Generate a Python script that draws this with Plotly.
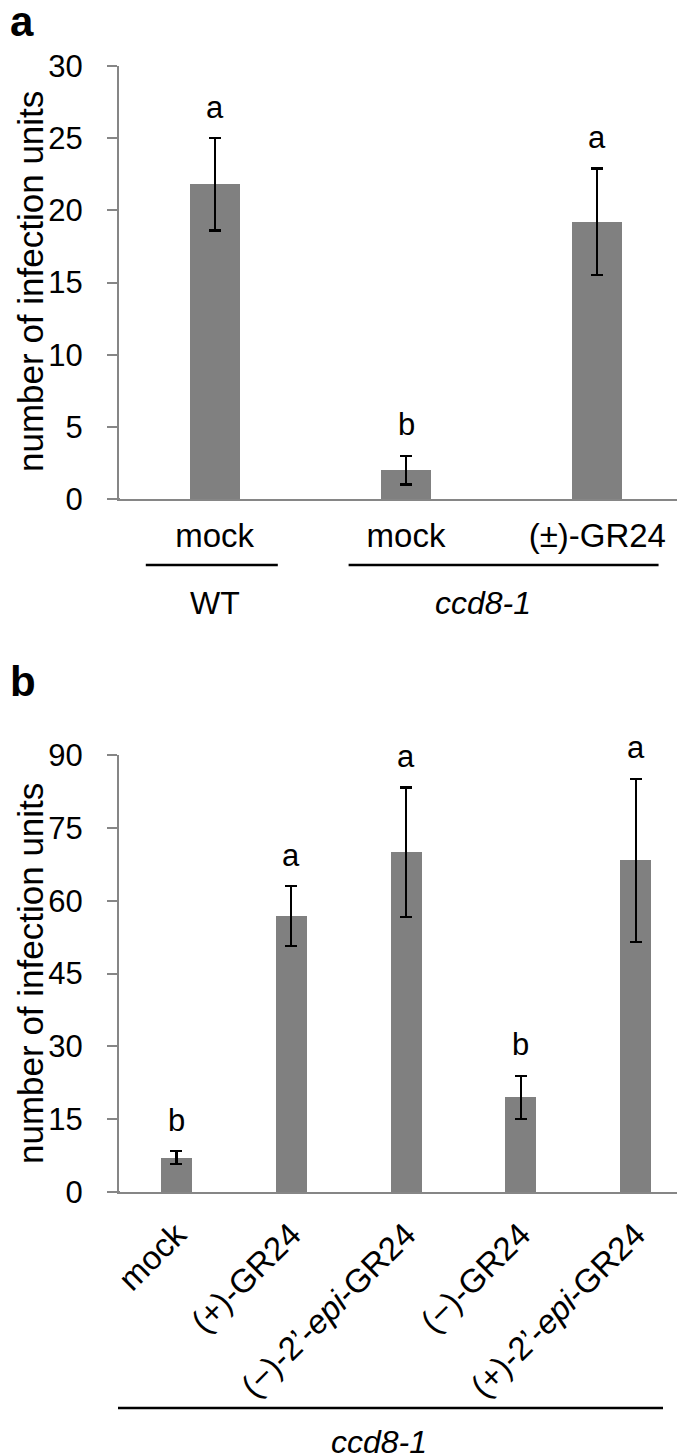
import plotly.graph_objects as go

# ---------------- data ----------------
a_labels = ["mock", "mock", "(±)-GR24"]
a_values = [21.8, 2.0, 19.2]
a_errors = [3.2, 1.0, 3.7]
a_letters = ["a", "b", "a"]

b_labels = ["mock", "(+)-GR24", "(−)-2’-<i>epi</i>-GR24", "(−)-GR24", "(+)-2’-<i>epi</i>-GR24"]
b_values = [7.1, 56.8, 70.0, 19.5, 68.3]
b_errors = [1.3, 6.2, 13.3, 4.4, 16.8]
b_letters = ["b", "a", "a", "b", "a"]

a_ticks = [0, 5, 10, 15, 20, 25, 30]
b_ticks = [0, 15, 30, 45, 60, 75, 90]

# ---------------- layout helpers ----------------
W, H = 685, 1455
FONT = "Liberation Sans, Arial, sans-serif"
GREY = "#868686"
BAR = "#808080"


def px(x):
    return x / W


def py(y):
    return 1 - y / H


fig = go.Figure()

fig.add_trace(go.Bar(
    x=list(range(len(a_values))), y=a_values,
    error_y=dict(type="data", array=a_errors, color="black", thickness=2.2, width=6),
    marker=dict(color=BAR, line=dict(width=0)), width=0.26,
    xaxis="x", yaxis="y", showlegend=False, hoverinfo="skip"))

fig.add_trace(go.Bar(
    x=list(range(len(b_values))), y=b_values,
    error_y=dict(type="data", array=b_errors, color="black", thickness=2.2, width=6),
    marker=dict(color=BAR, line=dict(width=0)), width=0.27,
    xaxis="x2", yaxis="y2", showlegend=False, hoverinfo="skip"))

annotations = []
# significance letters
for i, (v, e, t) in enumerate(zip(a_values, a_errors, a_letters)):
    annotations.append(dict(x=i, y=v + e, xref="x", yref="y", text=t, showarrow=False,
                            yanchor="middle", yshift=31, font=dict(size=31, color="black", family=FONT)))
for i, (v, e, t) in enumerate(zip(b_values, b_errors, b_letters)):
    annotations.append(dict(x=i, y=v + e, xref="x2", yref="y2", text=t, showarrow=False,
                            yanchor="middle", yshift=31, font=dict(size=31, color="black", family=FONT)))

# panel letters
annotations.append(dict(x=0, y=py(14), xref="paper", yref="paper", text="<b>a</b>", showarrow=False,
                        xanchor="left", yanchor="middle", font=dict(size=42, color="black", family=FONT)))
annotations.append(dict(x=0, y=py(673), xref="paper", yref="paper", text="<b>b</b>", showarrow=False,
                        xanchor="left", yanchor="middle", font=dict(size=42, color="black", family=FONT)))

# y titles
for yc in (274, 966):
    annotations.append(dict(x=px(22), y=py(yc), xref="paper", yref="paper",
                            text="number of infection units", textangle=-90, showarrow=False,
                            xanchor="center", yanchor="middle",
                            font=dict(size=35, color="black", family=FONT)))

# group labels
annotations.append(dict(x=0, y=py(595), xref="x", yref="paper", text="WT", showarrow=False,
                        xanchor="center", yanchor="middle", font=dict(size=32, color="black", family=FONT)))
annotations.append(dict(x=1.4, y=py(595), xref="x", yref="paper", text="<i>ccd8-1</i>", showarrow=False,
                        xanchor="center", yanchor="middle", font=dict(size=32, color="black", family=FONT)))
annotations.append(dict(x=px(371), y=0, xref="paper", yref="paper", text="<i>ccd8-1</i>",
                        showarrow=False, xanchor="center", yanchor="bottom", yshift=1,
                        font=dict(size=32, color="black", family=FONT)))

shapes = [
    # group lines
    dict(type="line", xref="x", yref="paper", x0=-0.36, x1=0.33, y0=py(557), y1=py(557),
         line=dict(color="black", width=2.5)),
    dict(type="line", xref="x", yref="paper", x0=0.7, x1=2.32, y0=py(557), y1=py(557),
         line=dict(color="black", width=2.5)),
    dict(type="line", xref="paper", yref="paper", x0=px(110), x1=px(655), y0=py(1400), y1=py(1400),
         line=dict(color="black", width=2.5)),
    # short extension of baselines left of y axes
    dict(type="line", xref="paper", yref="y", x0=px(101), x1=px(112), y0=0, y1=0,
         line=dict(color=GREY, width=2)),
    dict(type="line", xref="paper", yref="y2", x0=px(101), x1=px(112), y0=0, y1=0,
         line=dict(color=GREY, width=2)),
]

xdom = [px(111), 1.0]
common_x = dict(showgrid=False, zeroline=False, showline=True, linecolor=GREY, linewidth=2,
                ticks="", automargin=False, fixedrange=True,
                tickfont=dict(size=33, color="black", family=FONT))
common_y = dict(showgrid=False, zeroline=False, showline=True, linecolor=GREY, linewidth=2,
                ticks="outside", ticklen=10, tickwidth=2, tickcolor=GREY, automargin=False,
                ticklabelstandoff=18, tickfont=dict(size=31, color="black", family=FONT))

fig.update_layout(
    width=W, height=H, margin=dict(l=0, r=0, t=0, b=0),
    template="none", paper_bgcolor="white", plot_bgcolor="white",
    bargap=0,
    xaxis=dict(domain=xdom, anchor="y", range=[-0.5, 2.5], tickmode="array",
               tickvals=list(range(len(a_labels))), ticktext=a_labels,
               ticklabelstandoff=6, **common_x),
    yaxis=dict(domain=[py(491), py(58)], anchor="x", range=[0, 30], tickmode="array",
               tickvals=a_ticks, **common_y),
    xaxis2=dict(domain=xdom, anchor="y2", range=[-0.5, 4.5], tickmode="array",
                tickvals=list(range(len(b_labels))), ticktext=b_labels, tickangle=-45,
                ticklabelstandoff=8, **common_x),
    yaxis2=dict(domain=[py(1184), py(747)], anchor="x2", range=[0, 90], tickmode="array",
                tickvals=b_ticks, **common_y),
    annotations=annotations,
    shapes=shapes,
)

fig.write_html("out.html")
